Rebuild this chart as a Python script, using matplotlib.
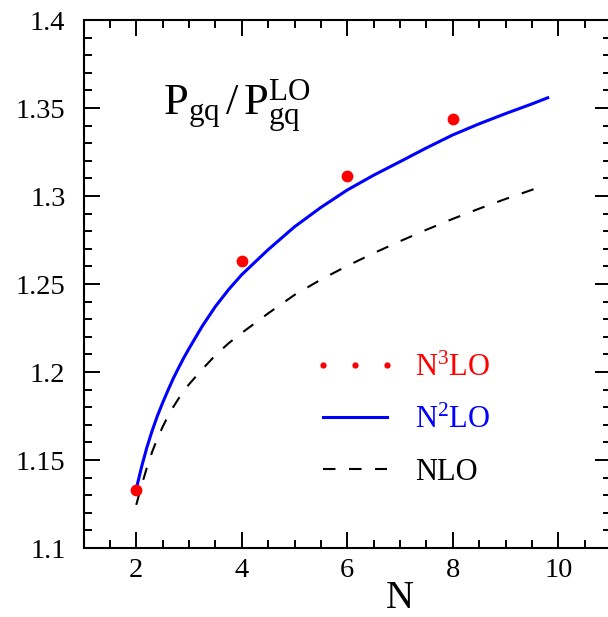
# ratio of the gq splitting function to its LO value at successive orders

import matplotlib.pyplot as plt
from matplotlib.lines import Line2D
from matplotlib.legend_handler import HandlerLine2D
from matplotlib.ticker import MultipleLocator

plt.rcParams['font.family'] = 'serif'
plt.rcParams['font.serif'] = ['Liberation Serif']
plt.rcParams['mathtext.fontset'] = 'custom'
plt.rcParams['mathtext.rm'] = 'Liberation Serif'
plt.rcParams['mathtext.it'] = 'Liberation Serif:italic'

# N3LO moments (points)
n_n3lo = [2, 4, 6, 8]
r_n3lo = [1.133, 1.263, 1.3114, 1.3437]

# N2LO curve
n_n2lo = [2.0, 2.1, 2.2, 2.3, 2.4, 2.5, 2.6, 2.7, 2.8, 2.9, 3.0, 3.25, 3.5,
          3.75, 4.0, 4.5, 5.0, 5.5, 6.0, 6.5, 7.0, 7.5, 8.0, 8.5, 9.0, 9.5, 9.8]
r_n2lo = [1.1335, 1.146, 1.157, 1.1665, 1.175, 1.1825, 1.1895, 1.1962,
          1.2022, 1.208, 1.2133, 1.226, 1.2372, 1.2468, 1.2553, 1.2695,
          1.2825, 1.2935, 1.3034, 1.3118, 1.3195, 1.3273, 1.3347, 1.341,
          1.3468, 1.3523, 1.3558]

# NLO curve
n_nlo = [2.0, 2.1, 2.2, 2.3, 2.4, 2.5, 2.6, 2.7, 2.8, 2.9, 3.0, 3.25, 3.5,
         3.75, 4.0, 4.5, 5.0, 5.5, 6.0, 6.5, 7.0, 7.5, 8.0, 8.5, 9.0, 9.5, 9.7]
r_nlo = [1.1245, 1.1355, 1.1455, 1.1545, 1.1622, 1.1688, 1.1748, 1.18,
         1.1848, 1.189, 1.193, 1.2015, 1.2095, 1.2163, 1.2222, 1.2333,
         1.2438, 1.2525, 1.2603, 1.2675, 1.2743, 1.2808, 1.287, 1.2928,
         1.2983, 1.3035, 1.3055]

# tick labels
x_ticks = [2, 4, 6, 8, 10]
y_ticks = [1.1, 1.15, 1.2, 1.25, 1.3, 1.35, 1.4]
y_ticklabels = ['1.1', '1.15', '1.2', '1.25', '1.3', '1.35', '1.4']

fig = plt.figure(figsize=(6.08, 6.17), dpi=100)
ax = fig.add_axes([83.5 / 608, 1 - 548 / 617, 527.5 / 608, 528 / 617])

ax.plot(n_nlo, r_nlo, color='black', lw=1.5, dashes=(6, 6.5))
ax.plot(n_n2lo, r_n2lo, color='blue', lw=2.2)
ax.plot(n_n3lo, r_n3lo, 'o', color='red', ms=8.5, mec='none')

ax.set_xlim(1, 11)
ax.set_ylim(1.1, 1.4)
ax.xaxis.set_minor_locator(MultipleLocator(0.5))
ax.yaxis.set_minor_locator(MultipleLocator(0.01))
ax.set_xticks(x_ticks)
ax.set_xticklabels([str(v) for v in x_ticks], fontsize=20.5)
ax.set_yticks(y_ticks)
ax.set_yticklabels(y_ticklabels, fontsize=20.5)
ax.tick_params(which='both', direction='in', top=True, right=True, width=1.4)
ax.tick_params(axis='x', pad=7)
ax.tick_params(axis='y', pad=13)
ax.tick_params(which='major', length=11.5)
ax.tick_params(which='minor', length=5.8)
for s in ax.spines.values():
    s.set_linewidth(1.5)

ax.set_xlabel('N', fontsize=28, va='baseline')
ax.xaxis.set_label_coords(0.6, -0.1136)

ax.text(2.51, 1.346, r'$\mathregular{P_{gq}\,/\,P_{gq}^{LO}}$', fontsize=32,
        va='baseline')

handles = [
    Line2D([], [], ls='none', marker='o', color='red', ms=4.5, mec='none'),
    Line2D([], [], color='blue', lw=2.2),
    Line2D([], [], color='black', lw=1.5, dashes=(6, 6.5)),
]
labels = [r'$\mathregular{N^3LO}$', r'$\mathregular{N^2LO}$', 'NLO']
ax.legend(handles, labels, loc='center left', bbox_to_anchor=(0.454, 0.242),
          frameon=False, fontsize=22, numpoints=3, handlelength=2.1,
          handletextpad=0.9, labelspacing=0.75, borderpad=0, borderaxespad=0,
          labelcolor=['red', 'blue', 'black'],
          handler_map={Line2D: HandlerLine2D(marker_pad=0)})

fig.savefig('out.png', dpi=100)
